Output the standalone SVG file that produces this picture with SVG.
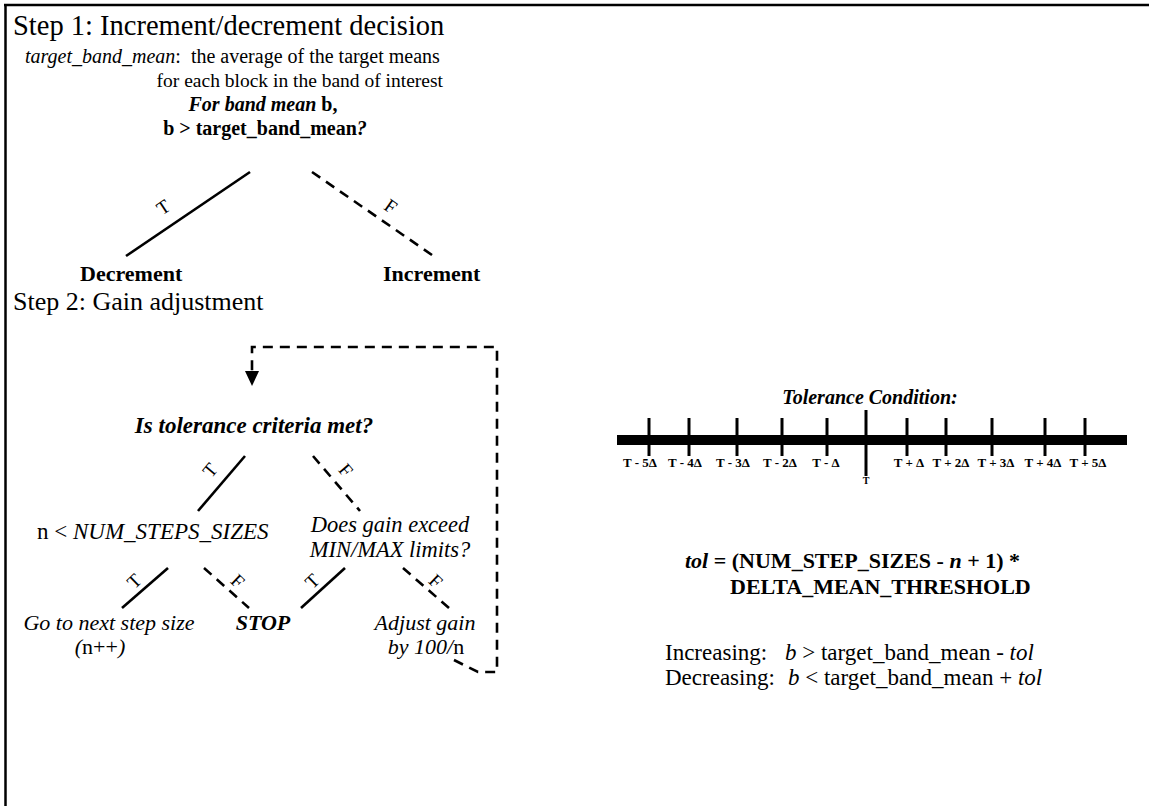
<svg xmlns="http://www.w3.org/2000/svg" width="1149" height="806" viewBox="0 0 1149 806">
  <style>
    text { font-family: "Liberation Serif", "Times New Roman", serif; fill: #000; }
    .h { font-size: 28.5px; }
    .b { font-size: 22px; }
    .s { font-size: 20px; }
    .r { font-size: 22px; }
    .lbl { font-size: 19px; }
    .tk { font-size: 13px; font-weight: bold; }
    .bd { font-weight: bold; }
    .it { font-style: italic; }
    .solid { stroke: #000; stroke-width: 2.6; fill: none; }
    .dash { stroke: #000; stroke-width: 2.6; fill: none; stroke-dasharray: 10 7; }
    .tick { stroke: #000; stroke-width: 3; }
  </style>

  <!-- frame -->
  <g id="frame">
    <line x1="5.5" y1="4" x2="5.5" y2="806" stroke="#000" stroke-width="2.5"/>
    <line x1="4" y1="5" x2="1149" y2="5" stroke="#000" stroke-width="2.5"/>
  </g>

  <!-- Step 1 -->
  <g id="step1-title">
    <text class="h" x="13" y="35">Step 1: Increment/decrement decision</text>
    <text class="s" x="25" y="63" xml:space="preserve"><tspan class="it">target_band_mean</tspan>:  the average of the target means</text>
    <text class="s" x="443" y="87" text-anchor="end" style="font-size:19.5px">for each block in the band of interest</text>
  </g>

  <g id="node-band-decision">
    <text class="s bd" x="263" y="111" text-anchor="middle"><tspan class="it">For band mean</tspan> b,</text>
    <text class="s bd" x="265" y="135" text-anchor="middle">b &gt; target_band_mean<tspan class="it">?</tspan></text>
  </g>

  <g id="node-decrement">
    <text class="b bd" x="80" y="281">Decrement</text>
  </g>
  <g id="node-increment">
    <text class="b bd" x="383" y="281">Increment</text>
  </g>

  <!-- Step 2 -->
  <g id="step2-title">
    <text class="h" x="13" y="310" style="font-size:26px">Step 2: Gain adjustment</text>
  </g>

  <g id="node-tolerance-met">
    <text class="b bd it" x="254" y="433" text-anchor="middle" style="font-size:23px">Is tolerance criteria met?</text>
  </g>

  <g id="node-step-count">
    <text class="b" x="37" y="539" style="font-size:23px">n &lt; <tspan class="it">NUM_STEPS_SIZES</tspan></text>
  </g>

  <g id="node-gain-limits">
    <text class="b it" x="390" y="532" text-anchor="middle" style="font-size:22.5px">Does gain exceed</text>
    <text class="b it" x="390" y="557" text-anchor="middle" style="font-size:22.5px">MIN/MAX limits?</text>
  </g>

  <g id="node-next-step">
    <text class="b it" x="109" y="630" text-anchor="middle">Go to next step size</text>
    <text class="b" x="100" y="654" text-anchor="middle"><tspan class="it">(</tspan>n++<tspan class="it">)</tspan></text>
  </g>

  <g id="node-stop">
    <text class="b bd it" x="263" y="630" text-anchor="middle">STOP</text>
  </g>

  <g id="node-adjust-gain">
    <text class="b it" x="425" y="630" text-anchor="middle">Adjust gain</text>
    <text class="b" x="426" y="654" text-anchor="middle"><tspan class="it">by 100/</tspan>n</text>
  </g>

  <!-- connectors -->
  <g id="connectors">
    <!-- step 1 branches -->
    <line class="solid" x1="250" y1="172" x2="126" y2="256"/>
    <line class="dash" x1="312" y1="172" x2="432" y2="255"/>
    <!-- tolerance check branches -->
    <line class="solid" x1="245" y1="456" x2="198" y2="511"/>
    <line class="dash" x1="313" y1="456" x2="360" y2="511"/>
    <!-- step count branches -->
    <line class="solid" x1="168" y1="568" x2="122" y2="608"/>
    <line class="dash" x1="204" y1="568" x2="249" y2="608"/>
    <!-- gain limit branches -->
    <line class="solid" x1="345" y1="568" x2="301" y2="608"/>
    <line class="dash" x1="403" y1="568" x2="449" y2="608"/>
    <!-- loop back to the tolerance check -->
    <path class="dash" d="M454,660 L478,672 H497 V347 H252 V372"/>
    <polygon points="245,371 259,371 252,386" fill="#000"/>

    <!-- branch labels -->
    <text class="lbl" transform="translate(163,207) rotate(-34)" text-anchor="middle" dy="0.35em">T</text>
    <text class="lbl" transform="translate(391,206) rotate(35)" text-anchor="middle" dy="0.35em">F</text>
    <text class="lbl" transform="translate(210,470) rotate(-50)" text-anchor="middle" dy="0.35em">T</text>
    <text class="lbl" transform="translate(346,470) rotate(50)" text-anchor="middle" dy="0.35em">F</text>
    <text class="lbl" transform="translate(134,581) rotate(-44)" text-anchor="middle" dy="0.35em">T</text>
    <text class="lbl" transform="translate(238,581) rotate(44)" text-anchor="middle" dy="0.35em">F</text>
    <text class="lbl" transform="translate(312,581) rotate(-44)" text-anchor="middle" dy="0.35em">T</text>
    <text class="lbl" transform="translate(436,581) rotate(44)" text-anchor="middle" dy="0.35em">F</text>
  </g>

  <!-- tolerance scale -->
  <g id="tolerance-condition">
    <text class="r bd it" x="870" y="404" text-anchor="middle" style="font-size:20px">Tolerance Condition:</text>
    <line x1="617" y1="440" x2="1127" y2="440" stroke="#000" stroke-width="10"/>
    <line class="tick" x1="649" y1="418" x2="649" y2="456"/>
    <line class="tick" x1="689" y1="418" x2="689" y2="456"/>
    <line class="tick" x1="737" y1="418" x2="737" y2="456"/>
    <line class="tick" x1="782" y1="418" x2="782" y2="456"/>
    <line class="tick" x1="827" y1="418" x2="827" y2="456"/>
    <line class="tick" x1="866" y1="410" x2="866" y2="476"/>
    <line class="tick" x1="907" y1="418" x2="907" y2="456"/>
    <line class="tick" x1="946" y1="418" x2="946" y2="456"/>
    <line class="tick" x1="992" y1="418" x2="992" y2="456"/>
    <line class="tick" x1="1045" y1="418" x2="1045" y2="456"/>
    <line class="tick" x1="1085" y1="418" x2="1085" y2="456"/>
    <g text-anchor="middle">
      <text class="tk" x="640" y="467">T - 5Δ</text>
      <text class="tk" x="685" y="467">T - 4Δ</text>
      <text class="tk" x="733" y="467">T - 3Δ</text>
      <text class="tk" x="780" y="467">T - 2Δ</text>
      <text class="tk" x="826" y="467">T - Δ</text>
      <text class="tk" x="866" y="484" style="font-size:10px">T</text>
      <text class="tk" x="909" y="467">T + Δ</text>
      <text class="tk" x="951" y="467">T + 2Δ</text>
      <text class="tk" x="996" y="467">T + 3Δ</text>
      <text class="tk" x="1043" y="467">T + 4Δ</text>
      <text class="tk" x="1088" y="467">T + 5Δ</text>
    </g>
  </g>

  <g id="tolerance-formula">
    <text class="r bd" x="685" y="568"><tspan class="it">tol</tspan> = (NUM_STEP_SIZES - <tspan class="it">n</tspan> + 1) *</text>
    <text class="r bd" x="730" y="594">DELTA_MEAN_THRESHOLD</text>
  </g>

  <g id="tolerance-tests">
    <text class="r" x="665" y="660" style="font-size:23px">Increasing:<tspan x="785" class="it">b</tspan> &gt; target_band_mean - <tspan class="it">tol</tspan></text>
    <text class="r" x="665" y="685" style="font-size:23px">Decreasing:<tspan x="788" class="it">b</tspan> &lt; target_band_mean + <tspan class="it">tol</tspan></text>
  </g>
</svg>
